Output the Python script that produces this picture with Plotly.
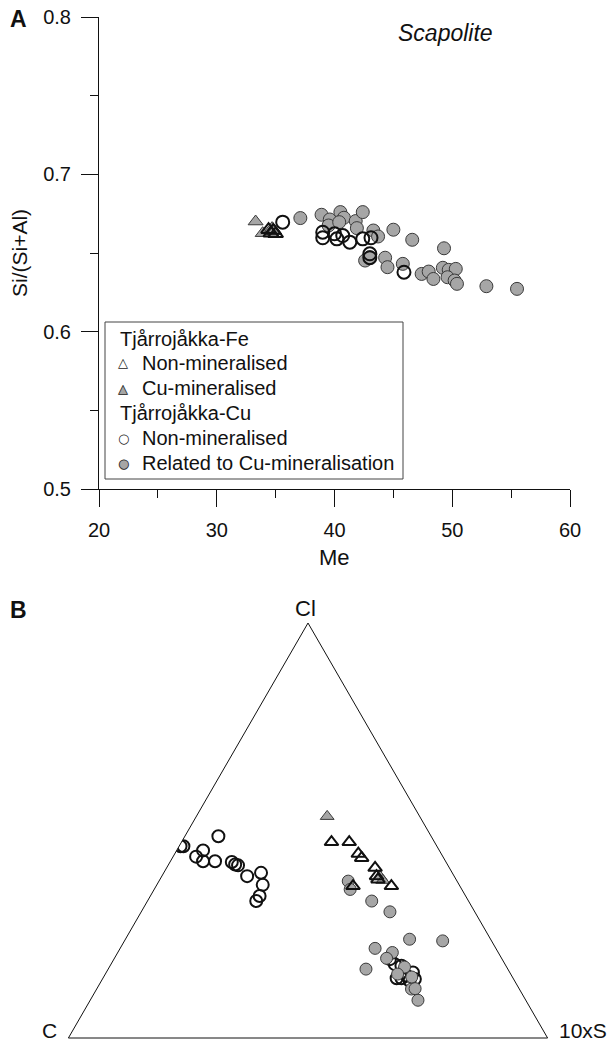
import plotly.graph_objects as go

W, H = 610, 1044
FONT = "Liberation Sans, Arial, Helvetica, sans-serif"
SYM_FONT = "DejaVu Sans, sans-serif"
INK = "#111111"
GREY = "#a6a6a6"
GREY_EDGE = "#3a3a3a"

# ---- Panel A: Me versus Si/(Si+Al) ----
fe_nonmin_me = [34.4, 34.8, 35.0, 34.6]
fe_nonmin_si = [0.6648, 0.6643, 0.6622, 0.6626]
fe_cumin_me = [33.3, 33.9, 34.7, 34.9]
fe_cumin_si = [0.6700, 0.6626, 0.6658, 0.6640]
cu_nonmin_me = [35.6, 39.0, 39.0, 40.0, 40.2, 40.7, 41.3, 42.4, 43.1, 43.0, 43.0, 45.9]
cu_nonmin_si = [0.6696, 0.6632, 0.6597, 0.6622, 0.6590, 0.6611, 0.6569, 0.6590,
                0.6597, 0.6495, 0.6470, 0.6378]
cu_rel_me = [37.1, 38.9, 39.6, 40.5, 40.8, 39.5, 40.4, 41.8, 41.9, 42.4, 43.3, 43.7,
             45.0, 46.6, 49.3, 42.6, 43.0, 44.3, 44.5, 45.8, 47.4, 48.0, 48.4, 49.2,
             49.7, 50.3, 49.6, 50.2, 50.4, 52.9, 55.5]
cu_rel_si = [0.6722, 0.6743, 0.6713, 0.6760, 0.6724, 0.6675, 0.6696, 0.6703, 0.6658,
             0.6760, 0.6643, 0.6605, 0.6648, 0.6584, 0.6530, 0.6452, 0.6473, 0.6470,
             0.6410, 0.6431, 0.6367, 0.6382, 0.6335, 0.6406, 0.6393, 0.6399, 0.6346,
             0.6325, 0.6304, 0.6289, 0.6272]

# ---- Panel B: Cl - C - 10xS ternary (a = Cl, b = C, c = 10xS) ----
t_fe_nonmin_a = [47.2, 47.2, 44.4, 43.4, 41.0, 39.0, 38.2, 36.6, 36.6]
t_fe_nonmin_b = [21.5, 17.8, 17.3, 17.1, 15.5, 16.2, 16.3, 14.3, 22.3]
t_fe_nonmin_c = [31.3, 35.0, 38.3, 39.5, 43.5, 44.8, 45.5, 49.1, 41.1]
t_fe_cumin_a = [53.4, 38.9, 38.0]
t_fe_cumin_b = [19.3, 15.5, 15.4]
t_fe_cumin_c = [27.3, 45.6, 46.6]
t_cu_nonmin_a = [46.2, 46.2, 48.6, 45.2, 43.7, 42.6, 42.6, 42.4, 41.8, 41.6, 39.0, 39.8,
                 36.9, 34.2, 33.0, 19.0, 17.8, 17.4, 14.4, 14.4, 15.0, 15.8, 14.2, 13.8]
t_cu_nonmin_b = [53.5, 52.9, 44.4, 49.3, 51.5, 50.6, 48.1, 44.7, 44.3, 43.8, 43.2, 39.9,
                 41.0, 43.0, 44.3, 23.4, 23.0, 21.8, 24.3, 23.3, 21.9, 20.2, 20.6, 21.9]
t_cu_nonmin_c = [0.3, 0.9, 7.0, 5.5, 4.8, 6.8, 9.3, 12.9, 13.9, 14.6, 17.8, 20.3,
                 22.1, 22.8, 22.7, 57.6, 59.2, 60.8, 61.3, 62.3, 63.1, 64.0, 65.2, 64.3]
t_cu_rel_a = [37.8, 35.8, 33.0, 30.4, 23.8, 23.4, 21.6, 16.6, 20.6, 19.2, 9.1, 11.8,
              11.9, 17.1, 14.7, 15.4]
t_cu_rel_b = [22.7, 23.3, 20.2, 17.7, 16.9, 10.2, 25.2, 29.6, 22.1, 24.0, 22.5, 22.5,
              21.7, 21.3, 21.0, 23.6]
t_cu_rel_c = [39.5, 40.9, 46.8, 51.9, 59.3, 66.4, 53.2, 53.8, 57.3, 56.8, 68.4, 65.7,
              66.4, 61.6, 64.3, 61.0]

x_ticks = [20, 30, 40, 50, 60]
y_ticks = [0.5, 0.6, 0.7, 0.8]

# legend rows: (kind, text, fill glyph, outline glyph, fill colour)
legend_rows = [
    ("group", "Tjårrojåkka-Fe", None, None, None),
    ("item", "Non-mineralised", None, "△", None),
    ("item", "Cu-mineralised", "▲", "△", GREY),
    ("group", "Tjårrojåkka-Cu", None, None, None),
    ("item", "Non-mineralised", "●", "○", "white"),
    ("item", "Related to Cu-mineralisation", "●", "○", GREY),
]

grey_circle = dict(symbol="circle", size=13, color=GREY, line=dict(color=GREY_EDGE, width=1))
open_circle = dict(symbol="circle-open", size=13, color=INK, line=dict(color=INK, width=2))
grey_tri = dict(symbol="triangle-up", size=13, color=GREY, line=dict(color=GREY_EDGE, width=1))
open_tri = dict(symbol="triangle-up-open", size=13, color=INK, line=dict(color=INK, width=2))

fig = go.Figure()

# scatter panel
for xs, ys, mk, nm in [
    (cu_rel_me, cu_rel_si, grey_circle, "Related to Cu-mineralisation"),
    (cu_nonmin_me, cu_nonmin_si, open_circle, "Non-mineralised (Cu)"),
    (fe_cumin_me, fe_cumin_si, grey_tri, "Cu-mineralised (Fe)"),
    (fe_nonmin_me, fe_nonmin_si, open_tri, "Non-mineralised (Fe)"),
]:
    fig.add_trace(go.Scatter(x=xs, y=ys, mode="markers", marker=mk, name=nm,
                             showlegend=False))

# ternary panel
for a, b, c, mk in [
    (t_cu_nonmin_a, t_cu_nonmin_b, t_cu_nonmin_c, open_circle),
    (t_cu_rel_a, t_cu_rel_b, t_cu_rel_c, grey_circle),
    (t_fe_cumin_a, t_fe_cumin_b, t_fe_cumin_c, grey_tri),
    (t_fe_nonmin_a, t_fe_nonmin_b, t_fe_nonmin_c, open_tri),
]:
    m = dict(mk)
    m["size"] = 12
    fig.add_trace(go.Scatterternary(a=a, b=b, c=c, mode="markers", marker=m,
                                    showlegend=False, subplot="ternary"))

axis_common = dict(showline=True, linecolor=INK, linewidth=1, showgrid=False,
                   zeroline=False, ticks="outside", ticklen=17, tickwidth=1,
                   tickcolor=INK, tickfont=dict(size=20, color=INK, family=FONT))

tern_axis = dict(showline=True, linecolor=INK, linewidth=1, showgrid=False,
                 showticklabels=False, ticks="", title=dict(text=""))

fig.update_layout(
    width=W, height=H,
    margin=dict(l=0, r=0, t=0, b=0, autoexpand=False),
    paper_bgcolor="white", plot_bgcolor="white",
    font=dict(family=FONT, color=INK, size=20),
    showlegend=False,
    xaxis=dict(domain=[99 / W, 570 / W], range=[20, 60], tickvals=x_ticks,
               anchor="y", ticklabelstandoff=6,
               minor=dict(ticks="outside", ticklen=8, dtick=5, tickcolor=INK, showgrid=False),
               **axis_common),
    yaxis=dict(domain=[(H - 489) / H, (H - 17) / H], range=[0.5, 0.8], tickvals=y_ticks,
               anchor="x", ticklabelstandoff=6,
               minor=dict(ticks="outside", ticklen=8, dtick=0.05, tickcolor=INK, showgrid=False),
               **axis_common),
    ternary=dict(
        domain=dict(x=[68 / W, 548 / W], y=[(H - 1038) / H, (H - 623) / H]),
        sum=100, bgcolor="white",
        aaxis=tern_axis, baxis=tern_axis, caxis=tern_axis,
    ),
)


def label(text, x, y, size=22, family=FONT, color=INK, xanchor="center",
          yanchor="middle", **kw):
    fig.add_annotation(text=text, x=x / W, y=1 - y / H, xref="paper", yref="paper",
                       xanchor=xanchor, yanchor=yanchor, showarrow=False,
                       font=dict(size=size, family=family, color=color), **kw)


label("<b>A</b>", 18, 19, size=23)
label("<b>B</b>", 18, 610, size=23)
label("<i>Scapolite</i>", 445, 33, size=23)
label("Me", 334, 557, size=22)
label("Si/(Si+Al)", 20, 253, size=21, textangle=-90)
label("Cl", 305, 608, size=22)
# corner labels sit on the bottom edge of the page
label("C", 50, H - 1, size=21, yanchor="bottom", borderpad=0)
label("10xS", 583, H - 1, size=21, yanchor="bottom", borderpad=0)

# legend box
fig.add_shape(type="rect", xref="paper", yref="paper",
              x0=105 / W, x1=403 / W, y0=1 - 479 / H, y1=1 - 322 / H,
              line=dict(color="#444444", width=1), fillcolor="white", layer="above")
row_y = [339, 363, 388, 413, 438, 463]
for (kind, text, fill, outline, fcol), yy in zip(legend_rows, row_y):
    if kind == "group":
        label(text, 118, yy, size=20, xanchor="left")
    else:
        if fill is not None:
            label(fill, 123, yy, size=13, family=SYM_FONT, color=fcol)
        label(outline, 123, yy, size=13, family=SYM_FONT, color="#222222")
        label(text, 140, yy, size=20, xanchor="left")

fig.write_html("out.html")
